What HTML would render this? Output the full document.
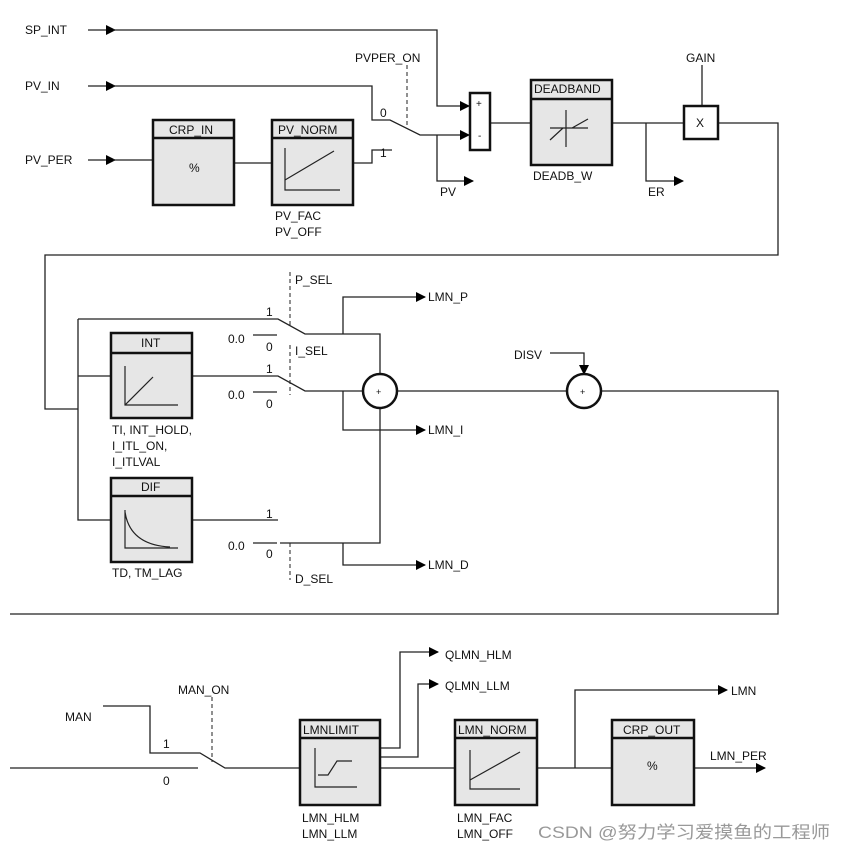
<!DOCTYPE html>
<html><head><meta charset="utf-8"><style>
body{margin:0;background:#fff}
svg text{font-family:"Liberation Sans",Arial,sans-serif;font-size:12px;fill:#111}
</style></head><body>
<svg width="844" height="851" viewBox="0 0 844 851" xmlns="http://www.w3.org/2000/svg">
<defs>
<marker id="a" markerWidth="10" markerHeight="10" refX="9" refY="5" orient="auto" markerUnits="userSpaceOnUse"><path d="M0,0 L10,5 L0,10 Z" fill="#000"/></marker>
</defs>
<g fill="none" stroke="#222" stroke-width="1.3">
<path d="M88,30 H115" marker-end="url(#a)"/><path d="M113,30 H437 V106 H469" marker-end="url(#a)"/>
<path d="M88,86 H115" marker-end="url(#a)"/><path d="M113,86 H372 V120 H390 L420,135 H469" marker-end="url(#a)"/>
<path d="M88,160 H115" marker-end="url(#a)"/><path d="M113,160 H153"/>
<path d="M234,163 H272"/>
<path d="M353,163 H372 V150 H392"/>
<path d="M437,135 V181 H473" marker-end="url(#a)"/>
<path d="M490,123 H531"/><path d="M612,123 H684"/>
<path d="M646,123 V181 H683" marker-end="url(#a)"/>
<path d="M702,65 V106"/>
<path d="M718,123 H778 V255 H45 V409 H78"/>
<path d="M407,65 V125" stroke-dasharray="4,3" stroke-width="1"/>
<path d="M78,319 V520 H111"/><path d="M78,376 H111"/>
<path d="M78,319 H278 L305,334 H380 V374"/>
<path d="M192,376 H278 L305,391 H363"/>
<path d="M192,520 H278"/>
<path d="M280,543 H380 V408"/>
<path d="M253,335 H277 M253,392 H277 M253,543 H277"/>
<path d="M343,334 V297 H425" marker-end="url(#a)"/>
<path d="M343,391 V430 H425" marker-end="url(#a)"/>
<path d="M343,543 V565 H425" marker-end="url(#a)"/>
<path d="M397,391 H567"/>
<path d="M550,353 H584 V374" marker-end="url(#a)"/>
<path d="M601,391 H778 V614 H10"/>
<path d="M290,272 V325 M290,345 V395 M290,543 V580" stroke-dasharray="4,3" stroke-width="1"/>
<path d="M103,706 H150 V753 H200 L225,768 H300"/>
<path d="M10,768 H198"/>
<path d="M212,697 V762" stroke-dasharray="4,3" stroke-width="1"/>
<path d="M380,748 H400 V652 H438" marker-end="url(#a)"/>
<path d="M380,757 H418 V684 H438" marker-end="url(#a)"/>
<path d="M380,768 H455"/><path d="M537,768 H612"/>
<path d="M575,768 V690 H727" marker-end="url(#a)"/>
<path d="M694,768 H765" marker-end="url(#a)"/>
</g>
<g stroke="#111" stroke-width="2.5" fill="#e6e6e6">
<rect x="153" y="120" width="81" height="85"/><line x1="153" y1="138" x2="234" y2="138"/>
<rect x="272" y="120" width="81" height="85"/><line x1="272" y1="138" x2="353" y2="138"/>
<rect x="531" y="80" width="81" height="85"/><line x1="531" y1="99" x2="612" y2="99"/>
<rect x="111" y="333" width="81" height="85"/><line x1="111" y1="353" x2="192" y2="353"/>
<rect x="111" y="478" width="81" height="84"/><line x1="111" y1="496" x2="192" y2="496"/>
<rect x="300" y="720" width="80" height="85"/><line x1="300" y1="738" x2="380" y2="738"/>
<rect x="455" y="720" width="82" height="85"/><line x1="455" y1="738" x2="537" y2="738"/>
<rect x="612" y="720" width="82" height="85"/><line x1="612" y1="738" x2="694" y2="738"/>
<rect x="470" y="93" width="20" height="57" fill="#fff"/>
<rect x="684" y="106" width="34" height="33" fill="#fff"/>
<circle cx="380" cy="391" r="17" fill="#fff"/>
<circle cx="584" cy="391" r="17" fill="#fff"/>
</g>
<g fill="none" stroke="#222" stroke-width="1.2">
<path d="M285,148 V190 H340 M285,180 L334,151"/>
<path d="M566,110 V147 M550,140 L563,128 H572 L588,119 M550,128 H588"/>
<path d="M125,366 V405 H178 M125,405 L153,377"/>
<path d="M125,510 V548 H178 M125,512 Q130,545 170,547"/>
<path d="M315,748 V787 H357 M318,775 H328 L337,761 H352"/>
<path d="M470,750 V789 H520 M470,780 L520,752"/>
</g>
<text x="25" y="34">SP_INT</text><text x="25" y="90">PV_IN</text><text x="25" y="164">PV_PER</text>
<text x="169" y="134">CRP_IN</text><text x="189" y="172">%</text>
<text x="278" y="134">PV_NORM</text><text x="275" y="220">PV_FAC</text><text x="275" y="236">PV_OFF</text>
<text x="355" y="62">PVPER_ON</text><text x="380" y="117">0</text><text x="380" y="157">1</text>
<text x="440" y="196">PV</text>
<text x="476" y="107" style="font-size:10px">+</text><text x="478" y="139" style="font-size:10px">-</text>
<text x="534" y="93">DEADBAND</text><text x="533" y="180">DEADB_W</text>
<text x="648" y="196">ER</text><text x="686" y="62">GAIN</text><text x="696" y="127">X</text>
<text x="295" y="284">P_SEL</text><text x="295" y="355">I_SEL</text><text x="295" y="583">D_SEL</text>
<text x="266" y="316">1</text><text x="228" y="343">0.0</text><text x="266" y="351">0</text>
<text x="266" y="373">1</text><text x="228" y="399">0.0</text><text x="266" y="408">0</text>
<text x="266" y="518">1</text><text x="228" y="550">0.0</text><text x="266" y="558">0</text>
<text x="141" y="347">INT</text><text x="141" y="491">DIF</text>
<text x="112" y="434">TI, INT_HOLD,</text><text x="112" y="450">I_ITL_ON,</text><text x="112" y="466">I_ITLVAL</text>
<text x="112" y="577">TD, TM_LAG</text>
<text x="428" y="301">LMN_P</text><text x="428" y="434">LMN_I</text><text x="428" y="569">LMN_D</text>
<text x="376" y="395" style="font-size:9px">+</text><text x="580" y="395" style="font-size:9px">+</text>
<text x="514" y="359">DISV</text>
<text x="65" y="721">MAN</text><text x="178" y="694">MAN_ON</text><text x="163" y="748">1</text><text x="163" y="785">0</text>
<text x="303" y="734">LMNLIMIT</text><text x="458" y="734">LMN_NORM</text><text x="623" y="734">CRP_OUT</text>
<text x="647" y="770">%</text>
<text x="445" y="659">QLMN_HLM</text><text x="445" y="690">QLMN_LLM</text><text x="731" y="695">LMN</text>
<text x="710" y="760">LMN_PER</text>
<text x="302" y="822">LMN_HLM</text><text x="302" y="838">LMN_LLM</text>
<text x="457" y="822">LMN_FAC</text><text x="457" y="838">LMN_OFF</text>
<text x="538" y="838" textLength="292" lengthAdjust="spacingAndGlyphs" style="font-family:'Liberation Sans','Noto Sans CJK SC',sans-serif;font-size:17px;fill:#999">CSDN @努力学习爱摸鱼的工程师</text>
</svg>
</body></html>
